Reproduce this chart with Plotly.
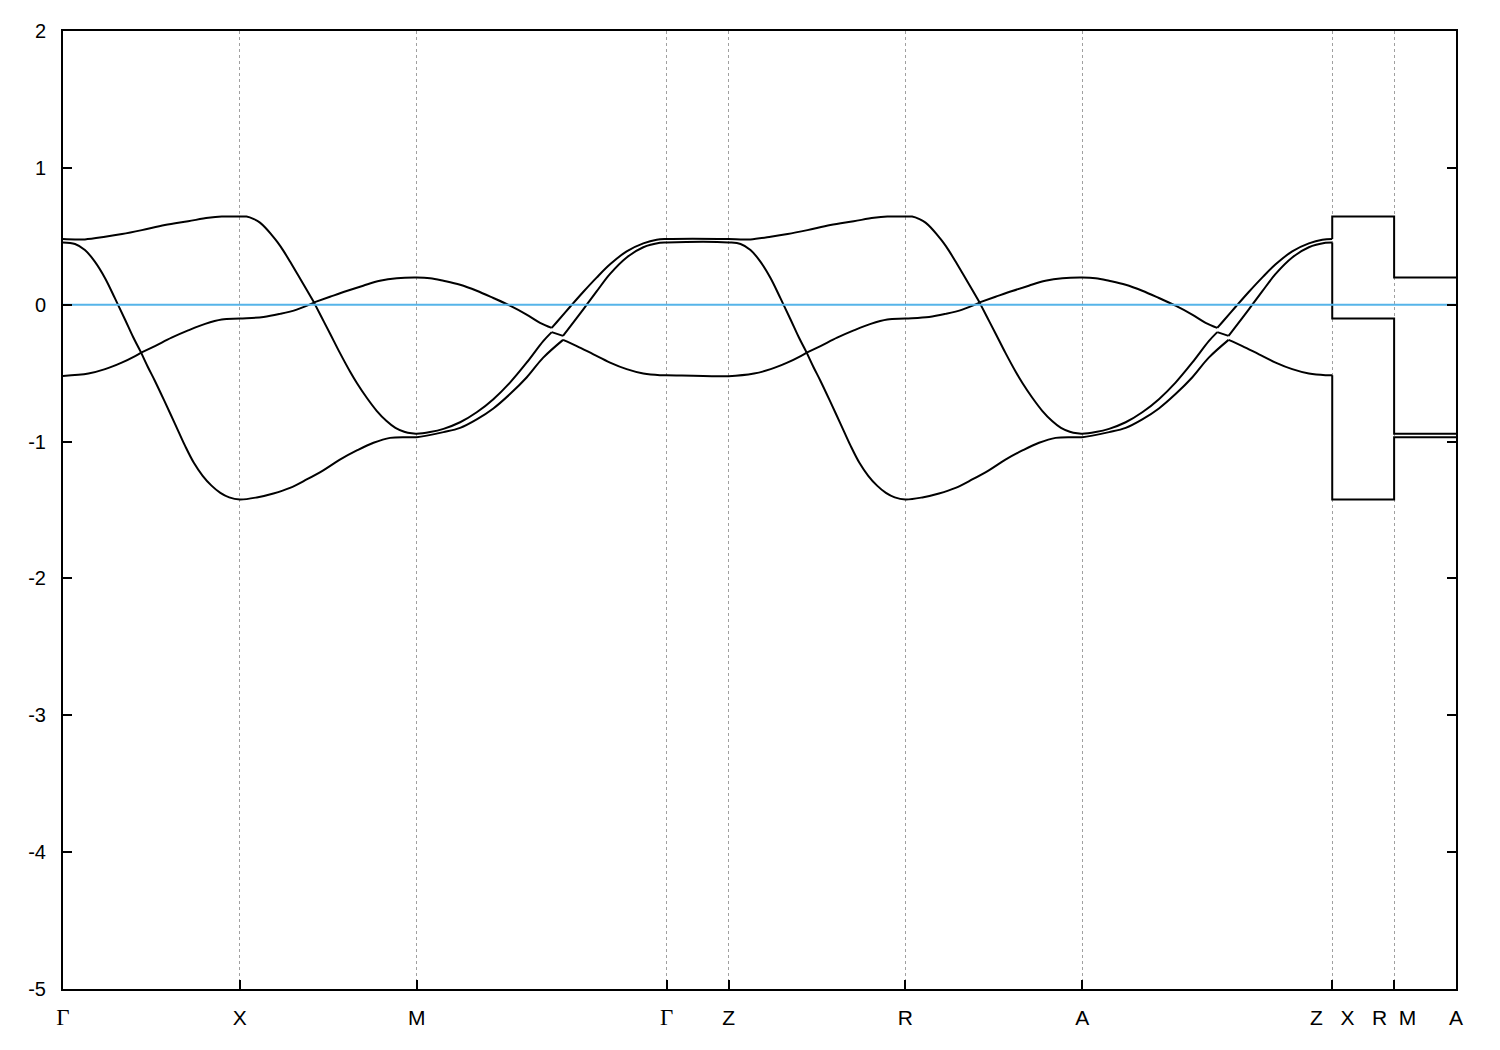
import plotly.graph_objects as go

# ---- high-symmetry path (k in units of 2*pi/a) ----
tick_k = [0.0, 0.5, 1.0, 1.7071, 1.8821, 2.3821, 2.8821, 3.5892, 3.7642, 3.9392]
serif_gamma = '<span style="font-family:\'Liberation Serif\', \'Times New Roman\', serif; font-size:23px">Γ</span>'
tick_text = [serif_gamma, "X", "M", serif_gamma, "Z", "R", "A",
             "Z\u00a0\u00a0\u00a0X", "R\u00a0\u00a0M", "A"]

Z_SHIFT = 1.8821        # Z-R-A-Z repeats Gamma-X-M-Gamma
GZ_END = 1.7071         # Gamma point
ZX_K = 3.5892           # Z|X
RM_K = 3.7642           # R|M
A_K = 3.9392            # A (end)

# ---- bands along Gamma-X-M-Gamma-Z (sorted by energy) ----
top_k = [0, 0.034, 0.062, 0.119, 0.167, 0.223, 0.288, 0.354, 0.411, 0.449, 0.5,
         0.519, 0.54, 0.557, 0.575, 0.590, 0.607, 0.623, 0.642, 0.665, 0.689, 0.710,
         0.755, 0.802, 0.849, 0.896, 0.944, 1.0,
         1.038, 1.076, 1.123, 1.170, 1.217, 1.264, 1.311, 1.349, 1.382,
         1.396, 1.434, 1.471, 1.509, 1.547, 1.594, 1.641, 1.679, 1.7071, 1.8821]
top_E = [0.48, 0.477, 0.477, 0.496, 0.516, 0.545, 0.582, 0.61, 0.635, 0.644, 0.644,
         0.644, 0.625, 0.60, 0.555, 0.51, 0.455, 0.395, 0.315, 0.215, 0.11, 0.017,
         0.058, 0.10, 0.139, 0.175, 0.194, 0.199,
         0.194, 0.175, 0.146, 0.102, 0.049, -0.007, -0.072, -0.132, -0.169,
         -0.128, -0.015, 0.093, 0.198, 0.295, 0.39, 0.448, 0.475, 0.48, 0.48]
top_kinks = [0.710, 1.382]

mid_k = [0, 0.034, 0.062, 0.090, 0.119, 0.147, 0.175, 0.199, 0.221,
         0.260, 0.307, 0.354, 0.402, 0.449, 0.5,
         0.567, 0.614, 0.661, 0.710,
         0.732, 0.755, 0.783, 0.812, 0.831, 0.859, 0.887, 0.915, 0.94, 0.965, 0.986, 1.0,
         1.038, 1.076, 1.123, 1.170, 1.217, 1.264, 1.311, 1.358, 1.382,
         1.414,
         1.453, 1.481, 1.509, 1.547, 1.594, 1.641, 1.688, 1.7071, 1.8821]
mid_E = [0.455, 0.444, 0.40, 0.315, 0.194, 0.046, -0.106, -0.24, -0.35,
         -0.302, -0.241, -0.188, -0.14, -0.108, -0.101,
         -0.09, -0.067, -0.036, 0.015,
         -0.095, -0.21, -0.352, -0.49, -0.572, -0.68, -0.775, -0.85, -0.9, -0.928, -0.94, -0.942,
         -0.93, -0.907, -0.859, -0.786, -0.69, -0.569, -0.424, -0.266, -0.20,
         -0.228,
         -0.096, 0.0, 0.097, 0.225, 0.345, 0.42, 0.452, 0.455, 0.455]
mid_kinks = [0.221, 0.710, 1.382, 1.414]

bot_k = [0, 0.072, 0.119, 0.166, 0.204, 0.221,
         0.24, 0.26, 0.288, 0.317, 0.345, 0.37, 0.395, 0.42, 0.445, 0.47, 0.5,
         0.548, 0.595, 0.642, 0.689, 0.736, 0.783, 0.831, 0.878, 0.925, 0.972, 1.0,
         1.076, 1.123, 1.170, 1.217, 1.264, 1.311, 1.358, 1.414,
         1.453, 1.500, 1.547, 1.594, 1.641, 1.688, 1.7071, 1.8821]
bot_E = [-0.52, -0.503, -0.471, -0.423, -0.375, -0.35,
         -0.455, -0.557, -0.71, -0.872, -1.03, -1.155, -1.25, -1.322, -1.375, -1.408, -1.423,
         -1.408, -1.379, -1.338, -1.277, -1.21, -1.132, -1.065, -1.009, -0.973, -0.968, -0.968,
         -0.931, -0.9, -0.838, -0.758, -0.653, -0.532, -0.387, -0.257,
         -0.302, -0.363, -0.423, -0.471, -0.503, -0.515, -0.515, -0.522]
bot_kinks = [0.221, 1.414]

# flat segments X-R and M-A (top, middle, bottom)
XR_E = [0.644, -0.101, -1.423]
MA_E = [0.199, -0.942, -0.968]

FERMI = 0.0


def curved_part(k, E):
    ks = list(k)
    es = list(E)
    for kk, ee in zip(k, E):            # Z-R-A-Z repeat
        if kk <= GZ_END + 1e-9:
            ks.append(kk + Z_SHIFT)
            es.append(ee)
    return ks, es


def split_at(ks, es, kinks):
    brk = set()
    for kk in kinks:
        brk.add(round(kk, 4))
        brk.add(round(kk + Z_SHIFT, 4))
    pieces, cur_k, cur_e = [], [], []
    prev = None
    for kk, ee in zip(ks, es):
        if prev is not None and abs(kk - prev) < 1e-9:
            continue
        cur_k.append(kk)
        cur_e.append(ee)
        prev = kk
        if round(kk, 4) in brk:
            pieces.append((cur_k, cur_e))
            cur_k, cur_e = [kk], [ee]
    pieces.append((cur_k, cur_e))
    return pieces


fig = go.Figure()
bands = [(top_k, top_E, top_kinks), (mid_k, mid_E, mid_kinks), (bot_k, bot_E, bot_kinks)]
band_line = dict(color="black", width=2)
for i, (k, E, kinks) in enumerate(bands):
    ks, es = curved_part(k, E)
    for pk, pe in split_at(ks, es, kinks):
        fig.add_trace(go.Scatter(x=pk, y=pe, mode="lines",
                                 line=dict(band_line, shape="spline", smoothing=1.0),
                                 showlegend=False, hoverinfo="skip"))
    # jump at Z|X, flat X-R, jump at R|M, flat M-A
    fig.add_trace(go.Scatter(x=[ks[-1], ZX_K, RM_K, RM_K, A_K],
                             y=[es[-1], XR_E[i], XR_E[i], MA_E[i], MA_E[i]],
                             mode="lines", line=band_line,
                             showlegend=False, hoverinfo="skip"))

fig.add_trace(go.Scatter(x=[tick_k[0], tick_k[-1]], y=[FERMI, FERMI], mode="lines",
                         line=dict(color="#56B4E9", width=2),
                         showlegend=False, hoverinfo="skip"))

y_vals = [-5, -4, -3, -2, -1, 0, 1, 2]
font_family = "Liberation Sans, Arial, Helvetica, sans-serif"

# the page body has an 8px margin; the figure is sized to fit the 1500x1050 window
fig.update_layout(
    width=1484, height=1034,
    margin=dict(l=55, r=36, t=20, b=50),
    paper_bgcolor="white", plot_bgcolor="white",
    font=dict(family=font_family, color="black", size=20),
    xaxis=dict(range=[tick_k[0], tick_k[-1]], tickvals=tick_k, ticktext=tick_text,
               showgrid=True, gridcolor="#a0a0a0", griddash="dot", gridwidth=1,
               showline=True, linecolor="black", linewidth=2, mirror=True,
               ticks="inside", ticklen=9, tickwidth=1.5, tickcolor="black",
               zeroline=False, tickfont=dict(size=21, family=font_family, color="black"),
               ticklabelstandoff=9),
    yaxis=dict(range=[-5, 2], tickvals=y_vals, ticktext=[str(v) for v in y_vals],
               showgrid=False, showline=True, linecolor="black", linewidth=2, mirror="ticks",
               ticks="inside", ticklen=9, tickwidth=1.5, tickcolor="black",
               zeroline=False, tickfont=dict(size=20, family=font_family, color="black"),
               ticklabelstandoff=11),
)

fig.write_html("out.html")
